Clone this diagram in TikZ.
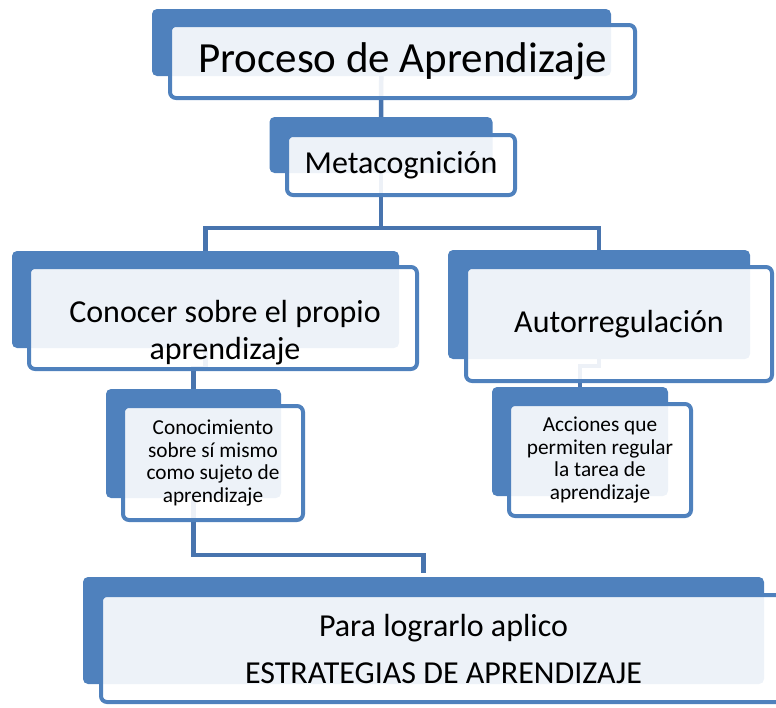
\documentclass[tikz,border=0pt]{standalone}
\usepackage{fontspec}
\setmainfont{Carlito}
\usetikzlibrary{backgrounds}
\definecolor{boxblue}{RGB}{79,129,189}
\definecolor{lineblue}{RGB}{72,116,174}

\begin{document}
\begin{tikzpicture}[x=1pt,y=-1pt,
    backbox/.style={fill=boxblue, rounded corners=5pt, inner sep=0pt},
    frontbox/.style={draw=boxblue, line width=4pt, fill=white, fill opacity=0.9,
      text opacity=1, rounded corners=6pt, inner sep=0pt, align=center},
    conn/.style={draw=lineblue, line width=4.5pt},
    bigtxt/.style={font=\fontsize{43}{50}\selectfont},
    midtxt/.style={font=\fontsize{32}{37}\selectfont},
    smalltxt/.style={font=\fontsize{21.3}{22.7}\selectfont},
    lowtxt/.style={font=\fontsize{32}{47}\selectfont}
]
\useasboundingbox (0,0) rectangle (776,707);

% top: process
\node[backbox, minimum width=459, minimum height=67] (procB) at (381.5,42.5) {};
\node[frontbox, bigtxt, minimum width=465, minimum height=73] (procF) at (402.5,61.5) {Proceso de Aprendizaje};

\node[backbox, minimum width=223, minimum height=56] (metaB) at (381,145) {};
\node[frontbox, midtxt, minimum width=228, minimum height=60] (metaF) at (401,165) {Metacognición};

% second level
\node[backbox, minimum width=387, minimum height=97] (conB) at (205.5,299.5) {};
\node[frontbox, minimum width=388, minimum height=102] (conF) at (223,318) {};
\node[midtxt, align=center, inner sep=0pt] (conT) at (225,333) {Conocer sobre el propio\\aprendizaje};

\node[backbox, minimum width=302, minimum height=109] (autoB) at (599,304.5) {};
\node[frontbox, midtxt, minimum width=306, minimum height=114] (autoF) at (619,324) {Autorregulación};

% third level
\node[backbox, minimum width=175, minimum height=109] (conoB) at (193.5,443.5) {};
\node[frontbox, smalltxt, minimum width=180, minimum height=114] (conoF) at (213,463)
  {Conocimiento\\sobre sí mismo\\como sujeto de\\aprendizaje};

\node[backbox, minimum width=176, minimum height=109] (accB) at (580,441.5) {};
\node[frontbox, smalltxt, minimum width=182, minimum height=112] (accF) at (600,460)
  {Acciones que\\permiten regular\\la tarea de\\aprendizaje};

% bottom: strategies
\node[backbox, minimum width=681, minimum height=107] (estrB) at (423.5,630.5) {};
\node[frontbox, lowtxt, minimum width=685, minimum height=107] (estrF) at (443.5,648.5)
  {Para lograrlo aplico\\ESTRATEGIAS DE APRENDIZAJE};

% connectors behind the boxes
\begin{scope}[on background layer]
\path (metaB.center) ++(0,83) coordinate (split);
\draw[conn] (procB.center) -- (metaB.north);
\draw[conn] (metaB.center) -- (split);
\draw[conn] (conB.north) |- (split) -| (autoB.north);
\draw[conn] (conB.center) -- ++(0,68.5) -| (conoB.north);
\draw[conn] (autoB.center) -- ++(0,61.5) -| (accB.north);
\draw[conn] (conoB.center) -- ++(0,111.5) -| ([yshift=4pt]estrB.north);
\end{scope}
\end{tikzpicture}
\end{document}
